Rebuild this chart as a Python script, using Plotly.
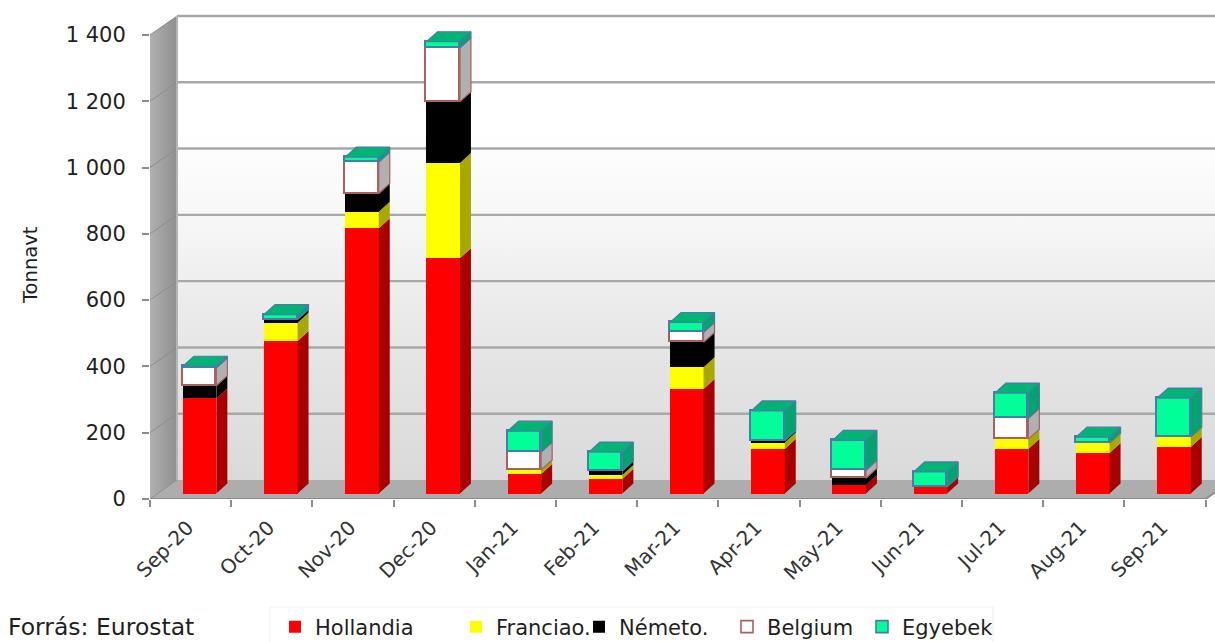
import numpy as np
import plotly.graph_objects as go

categories = ["Sep-20", "Oct-20", "Nov-20", "Dec-20", "Jan-21", "Feb-21", "Mar-21",
              "Apr-21", "May-21", "Jun-21", "Jul-21", "Aug-21", "Sep-21"]
hollandia = [287, 460, 800, 710, 59, 44, 315, 134, 26, 20, 134, 122, 140]
franciao = [0, 55, 50, 287, 12, 12, 66, 20, 0, 0, 30, 30, 30]
nemeto = [38, 10, 55, 185, 0, 12, 75, 5, 20, 0, 0, 0, 0]
belgium = [54, 0, 95, 163, 54, 0, 30, 0, 24, 0, 63, 0, 0]
egyebek = [5, 15, 15, 18, 63, 57, 30, 90, 90, 45, 76, 18, 118]
y_ticks = [0, 200, 400, 600, 800, 1000, 1200, 1400]
y_labels = ["0", "200", "400", "600", "800", "1 000", "1 200", "1 400"]

W, H = 1215, 642
PX_X = 81.2
PX_Y = 464 / 1400
L, BOT, TOP = 150, 499, 8
x_max = (W - L) / PX_X
y_max = (BOT - TOP) / PX_Y
wall_dx = 27 / PX_X
wall_dy = 19 / PX_Y
bar_lift = 5.5 / PX_Y
bar_shift = 9 / PX_X
bar_w = 33.5 / PX_X
dx = 11 / PX_X
dy = 10 / PX_Y
label_shift = -3 / PX_X
FONT = "DejaVu Sans"
TXT = "#1f1f1f"

series = [
    ("Hollandia", hollandia, "#ff0000", "#a80000", None, 300),
    ("Franciao.", franciao, "#ffff00", "#a8a800", None, 481),
    ("Németo.", nemeto, "#000000", "#000000", None, 604),
    ("Belgium", belgium, "#ffffff", "#b0b0b0", "#a86060", 752),
    ("Egyebek", egyebek, "#00ff99", "#00a56e", "#4a7ca8", 887),
]

fig = go.Figure()


def poly(xs, ys, color, yaxis="y", line=None, **kw):
    fig.add_trace(go.Scatter(x=xs, y=ys, mode="lines", fill="toself", fillcolor=color,
                             line=dict(color=line or color, width=1.2 if line else 0),
                             hoverinfo="skip", showlegend=False, yaxis=yaxis, **kw))


# back wall
poly([wall_dx, x_max, x_max, wall_dx, wall_dx],
     [wall_dy, wall_dy, 1400 + wall_dy, 1400 + wall_dy, wall_dy], "#ffffff",
     fillgradient=dict(type="vertical",
                       colorscale=[[0, "#dadada"], [0.25, "#e4e4e4"], [0.55, "#f6f6f6"], [0.75, "#ffffff"], [1, "#ffffff"]]))
# left wall
poly([0, wall_dx, wall_dx, 0, 0], [0, wall_dy, 1400 + wall_dy, 1400, 0], "#a3a3a3",
     fillgradient=dict(type="horizontal", colorscale=[[0, "#b0b0b0"], [1, "#8f8f8f"]]))
# floor
poly([0, len(categories), len(categories) + wall_dx, wall_dx, 0],
     [0, 0, wall_dy, wall_dy, 0], "#adadad")

# gridlines on back and side wall
for v in y_ticks:
    if v > 0:
        fig.add_trace(go.Scatter(x=[wall_dx, x_max], y=[v + wall_dy, v + wall_dy], mode="lines",
                                 line=dict(color="#a8a8a8", width=2.4), hoverinfo="skip", showlegend=False))
    fig.add_trace(go.Scatter(x=[0, wall_dx], y=[v, v + wall_dy], mode="lines",
                             line=dict(color="#8c8c8c", width=1), hoverinfo="skip", showlegend=False))
fig.add_trace(go.Scatter(x=[wall_dx, wall_dx], y=[wall_dy, 1400 + wall_dy], mode="lines",
                         line=dict(color="#b4b4b4", width=2), hoverinfo="skip", showlegend=False))
fig.add_trace(go.Scatter(x=[0, len(categories), len(categories) + wall_dx], y=[0, 0, wall_dy], mode="lines",
                         line=dict(color="#8c8c8c", width=2), hoverinfo="skip", showlegend=False))

xs = np.arange(len(categories)) + 0.5 + bar_shift

# fronts of the bars
for k, (name, vals, col, side, outline, lx) in enumerate(series):
    fig.add_trace(go.Bar(x=xs, y=vals, width=bar_w, name=name, yaxis="y2",
                         marker=dict(color=col, line=dict(color=outline or col, width=1.6 if outline else 0)),
                         legend="legend" if k == 0 else f"legend{k + 1}"))

# side and top faces
stack = np.zeros(len(categories))
for name, vals, col, side, outline, lx in series:
    for i, v in enumerate(vals):
        if v > 0:
            r = xs[i] + bar_w / 2
            a, b = stack[i], stack[i] + v
            poly([r, r + dx, r + dx, r, r], [a, a + dy, b + dy, b, a], side, yaxis="y2", line=outline)
    stack += np.array(vals)
for i, tot in enumerate(stack):
    l, r = xs[i] - bar_w / 2, xs[i] + bar_w / 2
    poly([l, r, r + dx, l + dx, l], [tot, tot, tot + dy, tot + dy, tot], "#00b377", yaxis="y2", line="#4a7ca8")

dom_y = [(H - BOT) / H, (H - TOP) / H]
legends = {}
for k, (name, vals, col, side, outline, lx) in enumerate(series):
    legends["legend" if k == 0 else f"legend{k + 1}"] = dict(
        x=(lx - 25) / W, y=(H - 627) / H,
        xanchor="left", yanchor="middle",
        bgcolor="rgba(0,0,0,0)", borderwidth=0, orientation="h",
        font=dict(family=FONT, size=21, color=TXT))

fig.update_layout(
    width=W, height=H, margin=dict(l=0, r=0, t=0, b=0, autoexpand=False),
    paper_bgcolor="white", plot_bgcolor="white", barmode="stack", bargap=0,
    font=dict(family=FONT, color=TXT), showlegend=True,
    xaxis=dict(domain=[L / W, 1], range=[0, x_max], tickmode="array", automargin=False,
               tickvals=list(np.arange(len(categories)) + 0.5 + label_shift), ticktext=categories,
               tickangle=-45, ticks="", showgrid=False, zeroline=False, showline=False,
               tickfont=dict(family=FONT, size=20, color="#333333"), ticklabelstandoff=12,
               minor=dict(tickmode="array", tickvals=list(range(len(categories) + 1)), ticks="outside",
                          ticklen=7, tickcolor="#8c8c8c", tickwidth=2, showgrid=False)),
    yaxis=dict(domain=dom_y, range=[0, y_max], tickmode="array", tickvals=y_ticks, ticktext=y_labels,
               ticks="outside", ticklen=7, tickcolor="#8c8c8c", tickwidth=2, showgrid=False, zeroline=False,
               automargin=False, showline=False, tickfont=dict(family=FONT, size=21, color=TXT),
               ticklabelstandoff=12),
    yaxis2=dict(domain=dom_y, range=[-bar_lift, y_max - bar_lift], overlaying="y", visible=False),
    annotations=[
        dict(text="Forrás: Eurostat", xref="paper", yref="paper", x=6 / W, y=(H - 627) / H,
             xanchor="left", yanchor="middle", showarrow=False,
             font=dict(family=FONT, size=23.5, color=TXT)),
        dict(text="Tonnavt", xref="paper", yref="paper", x=30 / W, y=(H - 265) / H,
             xanchor="center", yanchor="middle", showarrow=False, textangle=-90,
             font=dict(family=FONT, size=19.5, color=TXT)),
    ],
    shapes=[dict(type="rect", xref="paper", yref="paper", x0=270 / W, x1=993 / W, y0=-0.01, y1=(H - 607) / H,
                 line=dict(color="#f0f0f0", width=1), fillcolor="rgba(0,0,0,0)", layer="below")],
    **legends,
)
fig.write_html("out.html", post_script="document.body.style.margin='0';",
               config=dict(displayModeBar=False))
